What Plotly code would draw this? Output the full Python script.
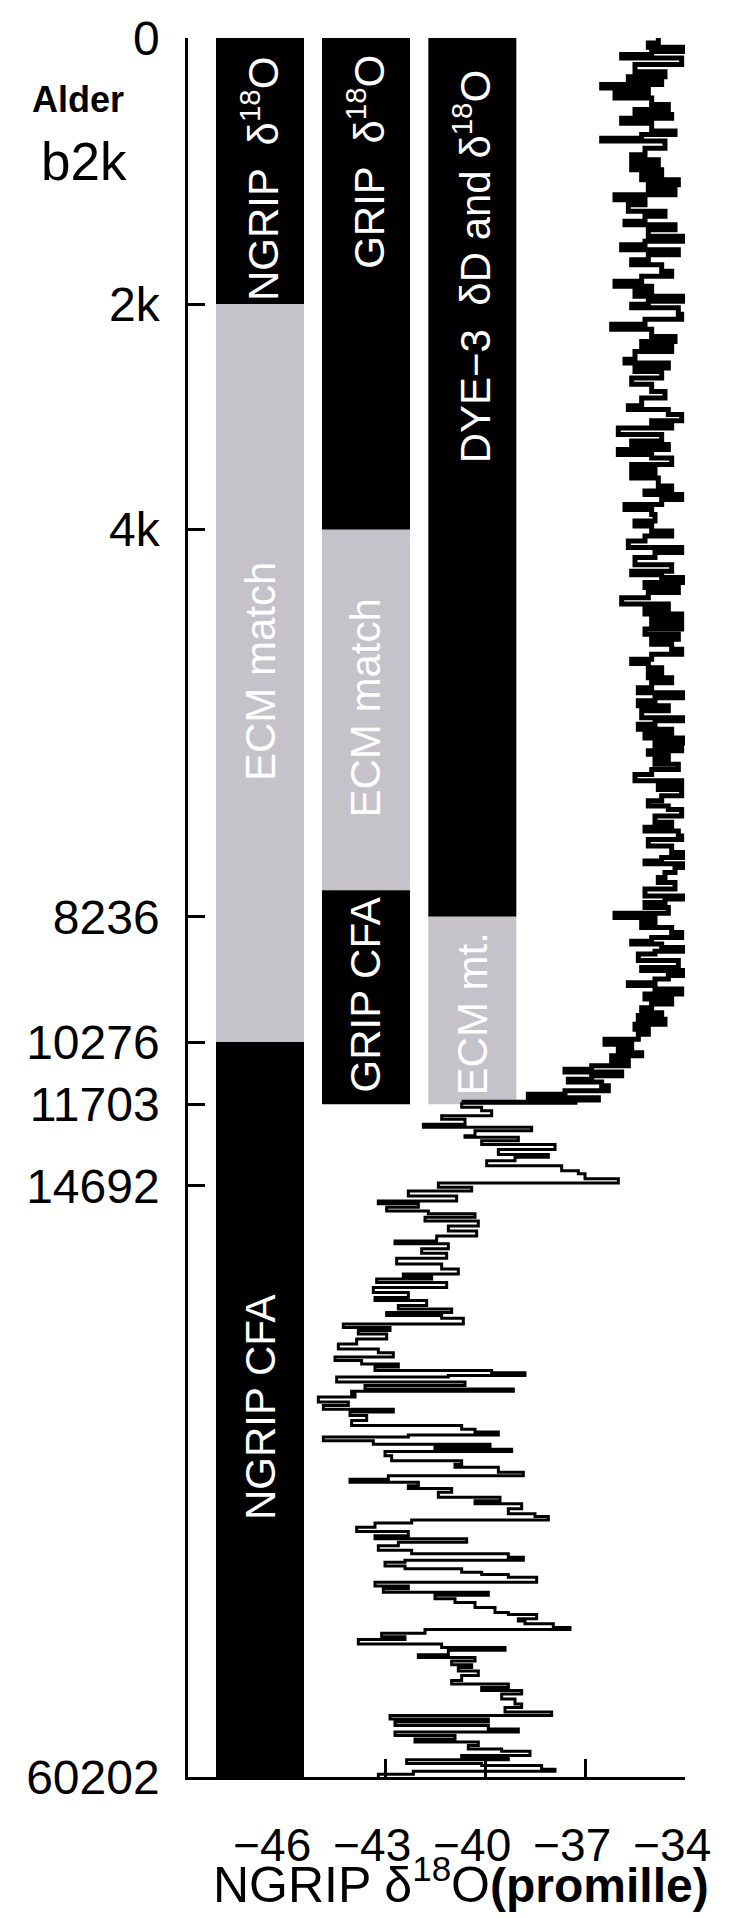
import plotly.graph_objects as go

# NGRIP depth (m) of the age ticks, with their b2k labels
tick_depth = [0, 372, 687, 1228, 1403, 1490, 1604, 2430]
tick_label = ["0", "2k", "4k", "8236", "10276", "11703", "14692", "60202"]
x_ticks = [-46, -43, -40, -37, -34]

# the three record columns (centre on the d18O axis)
col_x = [-46.75, -43.57, -40.38]
col_width = 2.64

# column segments: which column, top / bottom depth, kind, label, label depth
seg_col = [0, 0, 0, 1, 1, 1, 2, 2]
seg_top = [0, 372, 1403, 0, 687, 1191, 0, 1228]
seg_bottom = [372, 1403, 2430, 687, 1191, 1490, 1228, 1490]
seg_kind = ["core", "ecm", "core", "core", "ecm", "core", "core", "ecm"]
seg_label = ["NGRIP \u00a0\u03b4<sup>18</sup>O", "ECM match", "NGRIP CFA",
             "GRIP \u00a0\u03b4<sup>18</sup>O", "ECM match", "GRIP CFA",
             "DYE\u22123 \u00a0\u03b4D and \u03b4<sup>18</sup>O", "ECM mt."]
seg_label_depth = [197, 886, 1913, 173, 937, 1338, 320, 1364]

# NGRIP d18O record (depth m, permil)
depth_m = [
    0, 7, 13, 19, 23, 28, 37, 47, 54, 61, 65, 70, 77, 84, 93, 100, 107, 112, 119, 130,
    135, 140, 144, 154, 163, 170, 177, 184, 191, 198, 205, 212, 219, 226, 233, 242, 249, 256, 261, 268,
    277, 284, 289, 296, 303, 310, 317, 326, 333, 340, 347, 354, 361, 368, 372, 377, 386, 393, 400, 407,
    417, 424, 431, 438, 449, 454, 461, 466, 475, 484, 494, 503, 514, 519, 526, 535, 540, 545, 554, 563,
    568, 575, 582, 587, 596, 603, 608, 615, 626, 633, 638, 645, 652, 659, 666, 675, 682, 689, 696, 703,
    712, 719, 726, 736, 745, 750, 754, 761, 768, 775, 782, 791, 798, 805, 812, 819, 826, 833, 840, 847,
    854, 861, 868, 874, 880, 887, 894, 901, 908, 915, 922, 926, 933, 940, 950, 954, 959, 966, 973, 978,
    985, 989, 996, 1001, 1008, 1015, 1022, 1029, 1038, 1045, 1050, 1059, 1066, 1073, 1078, 1087, 1096, 1103, 1108, 1115,
    1120, 1129, 1138, 1145, 1150, 1154, 1159, 1166, 1173, 1180, 1189, 1199, 1203, 1208, 1215, 1223, 1229, 1236, 1243, 1250,
    1257, 1262, 1266, 1271, 1276, 1280, 1289, 1299, 1303, 1310, 1315, 1320, 1324, 1329, 1336, 1343, 1350, 1355, 1362, 1366,
    1371, 1378, 1385, 1392, 1399, 1406, 1413, 1418, 1422, 1429, 1436, 1441, 1445, 1450, 1455, 1459, 1464, 1471, 1476, 1481,
    1484, 1487, 1494, 1499, 1506, 1511, 1518, 1522, 1527, 1534, 1536, 1541, 1546, 1553, 1560, 1564, 1569, 1576, 1583, 1587,
    1594, 1600, 1606, 1611, 1618, 1625, 1629, 1634, 1639, 1643, 1648, 1653, 1660, 1667, 1674, 1681, 1685, 1692, 1698, 1705,
    1713, 1720, 1727, 1731, 1734, 1739, 1746, 1753, 1760, 1764, 1771, 1776, 1781, 1785, 1789, 1797, 1802, 1806, 1811, 1818,
    1825, 1832, 1837, 1843, 1848, 1853, 1857, 1862, 1865, 1869, 1871, 1878, 1883, 1888, 1891, 1895, 1899, 1906, 1911, 1916,
    1920, 1925, 1932, 1939, 1944, 1948, 1952, 1955, 1960, 1965, 1969, 1972, 1975, 1981, 1988, 1993, 1997, 2004, 2009, 2014,
    2018, 2023, 2027, 2032, 2039, 2044, 2048, 2055, 2062, 2066, 2071, 2075, 2081, 2087, 2093, 2097, 2102, 2107, 2113, 2118,
    2123, 2127, 2130, 2135, 2139, 2144, 2147, 2151, 2158, 2163, 2167, 2172, 2176, 2181, 2186, 2193, 2200, 2203, 2209, 2212,
    2216, 2221, 2224, 2229, 2234, 2238, 2244, 2249, 2253, 2259, 2263, 2268, 2273, 2277, 2282, 2288, 2295, 2300, 2305, 2309,
    2314, 2321, 2328, 2333, 2339, 2344, 2349, 2353, 2358, 2363, 2367, 2372, 2377, 2381, 2386, 2391, 2394, 2400, 2403, 2406,
    2411, 2414, 2419, 2422, 2426, 2430,
]
d18o = [
    -34.8, -35.1, -33.8, -35.0, -35.9, -34.1, -35.5, -34.6, -35.7, -34.7, -36.5, -35.1, -36.1, -35.0, -34.5, -35.5, -34.4, -35.9, -35.0, -34.3,
    -35.3, -36.5, -34.6, -35.2, -35.6, -34.8, -35.6, -34.7, -35.3, -34.2, -35.1, -34.3, -36.1, -35.2, -35.7, -34.6, -35.2, -35.8, -34.3, -35.1,
    -33.9, -35.2, -35.9, -34.2, -35.1, -35.6, -34.7, -34.4, -35.3, -36.1, -35.0, -35.5, -33.9, -35.1, -35.6, -34.2, -34.1, -35.2, -36.2, -35.0,
    -34.3, -35.3, -34.4, -35.5, -35.8, -34.5, -35.5, -34.7, -35.6, -35.0, -34.6, -35.3, -35.7, -34.5, -34.1, -35.0, -34.4, -36.0, -34.7, -35.6,
    -34.5, -36.0, -35.0, -34.4, -35.6, -34.9, -35.6, -34.8, -34.4, -35.2, -34.1, -34.7, -35.8, -35.0, -34.9, -35.5, -35.0, -34.4, -35.2, -35.7,
    -34.1, -34.9, -35.5, -34.4, -35.6, -34.7, -34.0, -35.2, -34.2, -35.1, -35.9, -34.5, -35.2, -34.1, -35.0, -34.1, -35.2, -34.2, -35.0, -34.4,
    -34.1, -35.0, -35.6, -35.1, -34.7, -35.1, -34.4, -35.0, -35.4, -34.0, -34.9, -35.4, -34.5, -35.3, -34.0, -34.9, -35.4, -34.4, -35.2, -34.0,
    -34.9, -34.1, -35.1, -34.5, -34.9, -34.2, -35.0, -35.5, -34.1, -34.8, -34.1, -34.7, -35.1, -34.5, -34.1, -34.9, -34.4, -35.2, -34.2, -34.1,
    -35.1, -34.4, -34.0, -34.7, -35.2, -34.0, -34.3, -34.6, -34.8, -34.3, -35.2, -34.0, -34.6, -35.2, -34.5, -36.1, -34.9, -35.3, -34.4, -34.1,
    -35.0, -35.6, -34.7, -34.0, -34.9, -35.4, -34.2, -35.3, -34.0, -34.5, -34.9, -35.7, -34.9, -34.1, -35.2, -34.4, -35.0, -35.3, -34.7, -35.4,
    -34.6, -35.5, -35.1, -35.4, -36.4, -35.6, -36.0, -35.3, -36.2, -35.7, -36.8, -37.6, -35.9, -36.8, -37.5, -36.5, -36.3, -37.6, -38.7, -36.6,
    -37.3, -40.7, -40.1, -39.8, -41.3, -40.6, -41.85, -38.6, -40.3, -40.6, -39.0, -40.1, -37.9, -39.6, -38.1, -39.1, -39.95, -37.7, -37.2, -37.0,
    -36.0, -41.4, -40.4, -42.3, -40.85, -43.2, -42.0, -42.95, -41.7, -40.3, -41.8, -40.2, -41.1, -40.25, -41.45, -42.7, -41.1, -41.9, -41.15, -42.65,
    -41.3, -40.8, -42.45, -41.6, -43.25, -41.15, -43.35, -42.3, -43.3, -41.75, -42.6, -41.0, -42.95, -41.3, -40.65, -44.25, -42.85, -43.8, -42.95, -43.85,
    -44.4, -43.2, -42.75, -44.5, -43.7, -42.6, -43.3, -39.8, -38.8, -41.1, -44.45, -40.6, -43.6, -39.15, -44.0, -43.9, -45.0, -44.1, -44.85, -42.75,
    -44.05, -43.55, -44.0, -40.7, -40.3, -39.6, -42.3, -44.85, -43.35, -39.85, -41.5, -39.2, -43.0, -42.8, -40.7, -40.9, -39.6, -38.85, -42.9, -44.05,
    -42.0, -42.3, -41.0, -41.4, -39.55, -40.3, -38.9, -39.3, -38.5, -38.1, -42.2, -43.3, -43.85, -42.3, -43.3, -40.55, -42.6, -43.2, -42.2, -39.3,
    -38.85, -42.4, -43.0, -42.4, -40.7, -40.1, -39.3, -38.45, -43.3, -42.3, -43.05, -39.9, -41.5, -40.9, -40.3, -39.7, -39.3, -38.45, -39.0, -38.8,
    -37.95, -37.45, -41.8, -43.1, -42.4, -43.8, -41.3, -39.4, -41.1, -42.0, -40.3, -41.0, -40.4, -40.8, -40.2, -40.7, -41.0, -39.3, -40.1, -38.9,
    -39.5, -39.1, -38.9, -39.4, -38.0, -42.85, -39.9, -42.7, -39.9, -39.0, -42.7, -40.9, -42.1, -40.2, -40.5, -39.5, -38.65, -40.7, -39.3, -42.35,
    -40.1, -38.3, -37.9, -42.15, -43.2, -43.2,
]
holocene_end = 1487  # depth where the Holocene part (drawn with heavier steps) ends

FONT = "Liberation Sans, Arial, sans-serif"
kind_color = {"core": "black", "ecm": "#c6c2ca"}

fig = go.Figure()

# record columns as floating bars
fig.add_trace(go.Bar(
    x=[col_x[c] for c in seg_col],
    base=seg_top,
    y=[b - t for t, b in zip(seg_top, seg_bottom)],
    width=col_width,
    marker=dict(color=[kind_color[k] for k in seg_kind], line=dict(width=0)),
    textposition="none",
    hoverinfo="skip",
))

# d18O curve as steps along depth
n_holo = sum(1 for d in depth_m if d <= holocene_end)
fig.add_trace(go.Scatter(
    x=d18o[:n_holo], y=depth_m[:n_holo], mode="lines",
    line=dict(color="black", width=5, shape="vh"),
))
fig.add_trace(go.Scatter(
    x=d18o[n_holo - 1:], y=depth_m[n_holo - 1:], mode="lines",
    line=dict(color="black", width=3, shape="vh"),
))

for c, lab, d in zip(seg_col, seg_label, seg_label_depth):
    fig.add_annotation(x=col_x[c], y=d, text=lab, textangle=-90, showarrow=False,
                       font=dict(family=FONT, size=42, color="white"))

fig.add_annotation(xref="paper", yref="paper", x=0, y=1, xshift=-110, yshift=-61,
                   xanchor="center", yanchor="middle",
                   text="<b>Alder</b>", showarrow=False,
                   font=dict(family=FONT, size=36, color="black"))
fig.add_annotation(xref="paper", yref="paper", x=0, y=1, xshift=-104, yshift=-123,
                   xanchor="center", yanchor="middle",
                   text="b2k", showarrow=False,
                   font=dict(family=FONT, size=53, color="black"))
fig.add_annotation(xref="paper", yref="paper", x=0.55, y=0, yshift=-104,
                   xanchor="center", yanchor="middle",
                   text="NGRIP \u03b4<sup>18</sup>O<b><span style='font-size:48px'>(promille)</span></b>",
                   showarrow=False, font=dict(family=FONT, size=50, color="black"))

fig.update_layout(
    width=729, height=1918,
    margin=dict(l=180, r=52, t=30, b=149, pad=0),
    paper_bgcolor="white", plot_bgcolor="white",
    showlegend=False, barmode="overlay",
    font=dict(family=FONT, size=48, color="black"),
)
fig.update_xaxes(
    range=[-48.91, -34], tickvals=x_ticks,
    # trailing figure space puts the digits over the tick, as in the original
    ticktext=["\u2212%d\u2007" % abs(v) for v in x_ticks], tickangle=0,
    ticklabeloverflow="allow",
    ticks="inside", ticklen=18, tickwidth=2.5, tickcolor="black",
    showline=True, linewidth=2.5, linecolor="black", mirror=False,
    showgrid=False, zeroline=False, layer="below traces", automargin=False,
    tickfont=dict(family=FONT, size=46), ticklabelstandoff=26,
)
fig.update_yaxes(
    range=[2430, 0], tickvals=tick_depth, ticktext=tick_label,
    ticks="inside", ticklen=17, tickwidth=2.5, tickcolor="black",
    showline=True, linewidth=2.5, linecolor="black", mirror=False,
    showgrid=False, zeroline=False, layer="below traces", automargin=False,
    tickfont=dict(family=FONT, size=48), ticklabelstandoff=16,
)

fig.write_html("out.html")
